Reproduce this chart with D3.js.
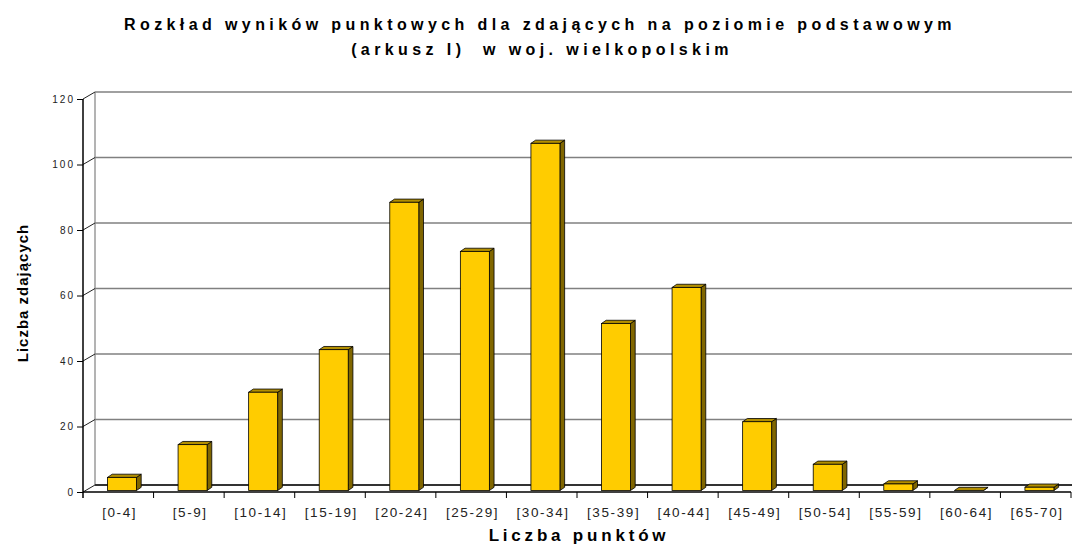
<!DOCTYPE html>
<html>
<head>
<meta charset="utf-8">
<script src="https://cdn.jsdelivr.net/npm/d3@7"></script>
<style>
  body { margin: 0; background: #fff; }
  text { font-family: Arial, "Liberation Sans", sans-serif; }
</style>
</head>
<body>
<div id="chart"></div>
<script>
// dane
const przedzialy = ["[0-4]", "[5-9]", "[10-14]", "[15-19]", "[20-24]", "[25-29]", "[30-34]",
                    "[35-39]", "[40-44]", "[45-49]", "[50-54]", "[55-59]", "[60-64]", "[65-70]"]
const liczbaZdajacych = [4, 14, 30, 43, 88, 73, 106, 51, 62, 21, 8, 2, 0, 1]
const osY = [0, 20, 40, 60, 80, 100, 120]

const szerokosc = 1072, wysokosc = 545
const lewo = 83, prawo = 1071, dolOsi = 492, goraOsi = 99
const glebX = 12, glebY = -7        // przesuniecie tylnej sciany
const slupX = 4.7, slupY = -3.2     // glebokosc slupka

const svg = d3.select("#chart").append("svg")
    .attr("width", szerokosc)
    .attr("height", wysokosc)

const x = d3.scaleBand()
    .domain(przedzialy)
    .range([lewo, prawo])
    .padding(0)

const y = d3.scaleLinear()
    .domain([0, 120])
    .range([dolOsi, goraOsi])

/*** sciany ***/
// linie siatki na tylnej scianie
svg.selectAll(".grid")
    .data(osY.filter(d => d > 0))
    .enter()
    .append("line")
    .attr("x1", lewo + glebX)
    .attr("x2", szerokosc)
    .attr("y1", d => y(d) + glebY)
    .attr("y2", d => y(d) + glebY)
    .attr("stroke", "#808080")
    .attr("stroke-width", 1.5)

// lewa sciana
svg.append("line")
    .attr("x1", lewo + glebX).attr("x2", lewo + glebX)
    .attr("y1", y(120) + glebY).attr("y2", dolOsi + glebY)
    .attr("stroke", "#808080")
    .attr("stroke-width", 1.2)

svg.selectAll(".diag")
    .data(osY)
    .enter()
    .append("line")
    .attr("x1", lewo)
    .attr("x2", lewo + glebX)
    .attr("y1", d => y(d))
    .attr("y2", d => y(d) + glebY)
    .attr("stroke", "#222")
    .attr("stroke-width", 1)

// tylna krawedz podlogi
svg.append("line")
    .attr("x1", lewo + glebX).attr("x2", szerokosc)
    .attr("y1", dolOsi + glebY).attr("y2", dolOsi + glebY)
    .attr("stroke", "#333")
    .attr("stroke-width", 2)

/*** slupki ***/
const szer = 29
const off = 24.5
const dol = dolOsi - 1.5

const slupki = svg.selectAll(".slupek")
    .data(przedzialy.map((p, i) => ({ p: p, v: liczbaZdajacych[i] })))
    .enter()
    .append("g")

// bok
slupki.append("polygon")
    .attr("points", d => {
        let x0 = x(d.p) + off + szer, yt = y(d.v) - 1.5
        return [[x0, dol], [x0 + slupX, dol + slupY], [x0 + slupX, yt + slupY], [x0, yt]].join(" ")
    })
    .attr("fill", "#806600")
    .attr("stroke", "#000")
    .attr("stroke-width", 0.8)
    .attr("stroke-linejoin", "round")

// gora
slupki.append("polygon")
    .attr("points", d => {
        let x0 = x(d.p) + off, yt = y(d.v) - 1.5
        return [[x0, yt], [x0 + slupX, yt + slupY], [x0 + szer + slupX, yt + slupY], [x0 + szer, yt]].join(" ")
    })
    .attr("fill", "#B38F00")
    .attr("stroke", "#000")
    .attr("stroke-width", 0.8)
    .attr("stroke-linejoin", "round")

// przod
slupki.filter(d => d.v > 0).append("rect")
    .attr("x", d => x(d.p) + off)
    .attr("y", d => y(d.v) - 1.5)
    .attr("width", szer)
    .attr("height", d => dol - (y(d.v) - 1.5))
    .attr("fill", "#FFCC00")
    .attr("stroke", "#000")
    .attr("stroke-width", 0.8)

/*** osie ***/
const axisY = svg.append("g")
    .attr("transform", "translate(" + lewo + ",0)")
    .call(d3.axisLeft(y).tickValues(osY).tickSize(6).tickPadding(2))
axisY.select(".domain").remove()
axisY.append("line")
    .attr("y1", goraOsi).attr("y2", dolOsi + 6)
    .attr("stroke", "#000").attr("stroke-width", 1.5)
axisY.selectAll(".tick line").attr("stroke", "#000")
axisY.selectAll(".tick text")
    .attr("font-size", 10)
    .attr("fill", "#222")
    .style("letter-spacing", "2px")

const axisX = svg.append("g")
    .attr("transform", "translate(0," + dolOsi + ")")
    .call(d3.axisBottom(x).tickSize(0).tickPadding(15.5))
axisX.select(".domain").remove()
axisX.append("line")
    .attr("x1", lewo).attr("x2", prawo)
    .attr("stroke", "#000").attr("stroke-width", 1.5)
axisX.selectAll(".tick text")
    .attr("font-size", 13.5)
    .attr("fill", "#222")
    .attr("dx", "0.1em")
    .style("letter-spacing", "1.6px")

svg.selectAll(".xtick")
    .data(przedzialy)
    .enter()
    .append("line")
    .attr("x1", d => x(d) + x.bandwidth())
    .attr("x2", d => x(d) + x.bandwidth())
    .attr("y1", dolOsi)
    .attr("y2", dolOsi + 6)
    .attr("stroke", "#000")
    .attr("stroke-width", 1)

/*** tytuly ***/
svg.append("text")
    .attr("x", 540).attr("y", 30)
    .attr("text-anchor", "middle")
    .attr("font-size", 16).attr("font-weight", "bold")
    .style("letter-spacing", "4.4px")
    .text("Rozkład wyników punktowych dla zdających na poziomie podstawowym")

svg.append("text")
    .attr("x", 542).attr("y", 55)
    .attr("text-anchor", "middle")
    .attr("font-size", 16).attr("font-weight", "bold")
    .style("letter-spacing", "4.4px")
    .style("white-space", "pre")
    .text("(arkusz I)  w woj. wielkopolskim")

svg.append("text")
    .attr("x", 579).attr("y", 541)
    .attr("text-anchor", "middle")
    .attr("font-size", 17).attr("font-weight", "bold")
    .style("letter-spacing", "3.8px")
    .text("Liczba punktów")

svg.append("text")
    .attr("transform", "translate(27.5,293) rotate(-90)")
    .attr("text-anchor", "middle")
    .attr("font-size", 15).attr("font-weight", "bold")
    .style("letter-spacing", "1px")
    .text("Liczba zdających")
</script>
</body>
</html>
